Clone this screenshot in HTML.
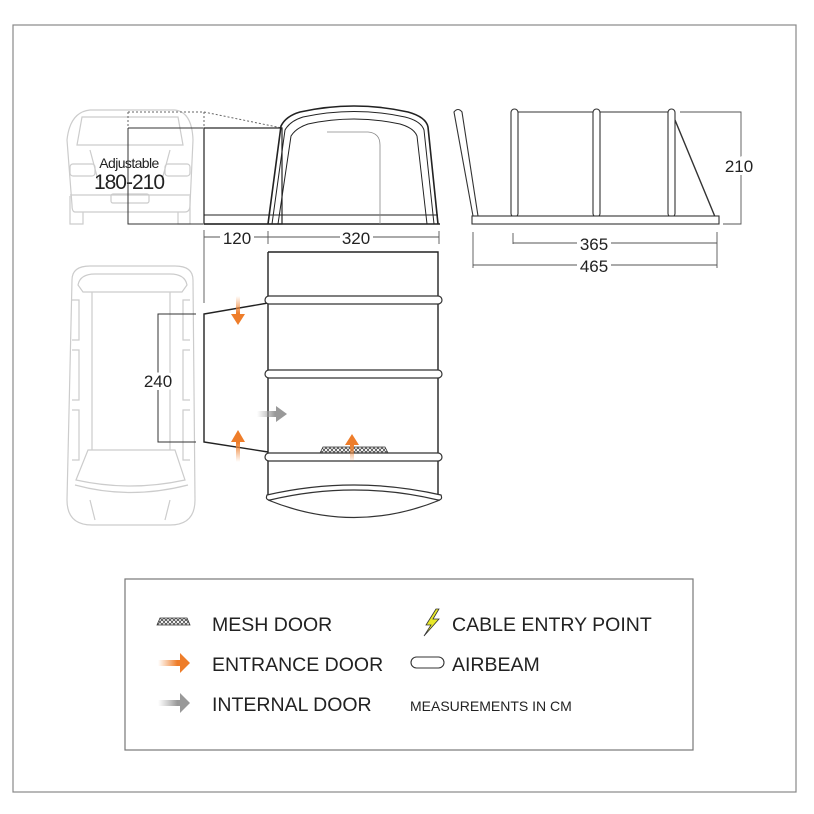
<!DOCTYPE html>
<html><head><meta charset="utf-8"><style>
html,body{margin:0;padding:0;background:#fff;}
svg{display:block;font-family:"Liberation Sans",sans-serif;}
</style></head><body>
<svg width="814" height="814" viewBox="0 0 814 814" xmlns="http://www.w3.org/2000/svg">
<defs>
<linearGradient id="og" x1="0" x2="1" y1="0" y2="0"><stop offset="0" stop-color="#f08a3c" stop-opacity="0"/><stop offset="0.6" stop-color="#ee7d2a"/><stop offset="1" stop-color="#ee7d2a"/></linearGradient>
<linearGradient id="ogv" x1="0" x2="0" y1="1" y2="0"><stop offset="0" stop-color="#f08a3c" stop-opacity="0"/><stop offset="0.6" stop-color="#ee7d2a"/><stop offset="1" stop-color="#ee7d2a"/></linearGradient>
<linearGradient id="ogd" x1="0" x2="0" y1="0" y2="1"><stop offset="0" stop-color="#f08a3c" stop-opacity="0"/><stop offset="0.6" stop-color="#ee7d2a"/><stop offset="1" stop-color="#ee7d2a"/></linearGradient>
<linearGradient id="gg" x1="0" x2="1" y1="0" y2="0"><stop offset="0" stop-color="#aaa" stop-opacity="0"/><stop offset="0.6" stop-color="#999"/><stop offset="1" stop-color="#999"/></linearGradient>
<pattern id="mesh" width="4" height="4" patternUnits="userSpaceOnUse"><circle cx="2" cy="2" r="1.5" fill="none" stroke="#333" stroke-width="0.7"/></pattern>
</defs>
<rect x="13" y="25" width="783" height="767" fill="none" stroke="#888" stroke-width="1.2"/>

<!-- van rear view -->
<g fill="none" stroke="#ccc" stroke-width="1.2">
<path d="M72 205 L67 140 Q70 112 90 110 L175 110 Q192 112 193 140 L190 205 Q190 212 185 212 L75 212 Q72 212 72 205Z"/>
<path d="M77 145 L82 117 L178 117 L183 145Z"/>
<path d="M70 195 L190 195"/>
<rect x="70" y="164" width="25" height="12" rx="3"/><rect x="165" y="164" width="25" height="12" rx="3"/>
<rect x="111" y="194" width="38" height="9" rx="2"/>
<path d="M70 196 L70 224 L83 224 L83 212"/><path d="M178 212 L178 224 L190 224 L190 196"/>
<path d="M90 150 L98 180"/><path d="M170 150 L162 180"/>
</g>
<text x="129" y="168" font-size="14" text-anchor="middle" fill="#222" letter-spacing="-0.6">Adjustable</text>
<text x="129" y="189" font-size="21" text-anchor="middle" fill="#222" letter-spacing="-1">180-210</text>
<g stroke="#333" stroke-width="1" fill="none">
<path d="M128 112 L203 112" stroke-dasharray="2,2" stroke="#666"/>
<path d="M128 112 L128 128" stroke-dasharray="2,2" stroke="#666"/>
<path d="M204 112 L204 128" stroke-dasharray="2,2" stroke="#666"/>
<path d="M204 112 L282 128" stroke-dasharray="2,2" stroke="#666"/>
<path d="M128 128 L203 128 M128 128 L128 224 L203 224"/>
</g>
<!-- annex side -->
<g stroke="#222" fill="none">
<rect x="204" y="128" width="78" height="96" stroke-width="1.2"/>
<path d="M204 215 L438 215" stroke-width="1"/>
<path d="M204 224 L440 224" stroke-width="1.6"/>
<path d="M268 224 L281 126 Q286 116 300 112 Q354 100 408 112 Q426 117 428 127 L438 224" stroke-width="1.6"/>
<path d="M272 224 L285 130 Q290 121 303 117 Q354 106 405 117 Q421 121 424 130 L434 224" stroke-width="1"/>
<path d="M278 224 L291 136 Q296 128 308 124 Q354 114 400 124 Q414 128 417 136 L427 224" stroke-width="1"/>
<path d="M327 132 L368 132 Q380 133 380 145 L380 224" stroke="#888" stroke-width="0.8"/>
</g>
<!-- dims 120/320 -->
<g stroke="#555" stroke-width="0.9" fill="none">
<path d="M204 230 L204 303"/><path d="M268 231 L268 244"/><path d="M439 231 L439 244"/>
<path d="M204 237 L220 237 M254 237 L268 237 M268 237 L340 237 M373 237 L439 237"/>
</g>
<text x="237" y="244" font-size="17" text-anchor="middle" fill="#222">120</text>
<text x="356" y="244" font-size="17" text-anchor="middle" fill="#222">320</text>

<!-- van top view -->
<g fill="none" stroke="#ccc" stroke-width="1.2">
<path d="M72 280 Q72 266 90 266 L175 266 Q193 266 193 280 L195 500 Q195 525 170 525 L92 525 Q67 525 67 500Z"/>
<path d="M78 285 Q80 274 95 274 L170 274 Q185 274 187 285 L182 292 L83 292Z"/>
<path d="M92 292 L92 450 M170 292 L170 450"/>
<path d="M72 300 L79 300 L79 340 L72 340 M72 350 L79 350 L79 400 L72 400 M72 410 L79 410 L79 460 L72 460"/>
<path d="M190 300 L183 300 L183 340 L190 340 M190 350 L183 350 L183 400 L190 400 M190 410 L183 410 L183 460 L190 460"/>
<path d="M88 450 L175 450 L185 480 Q130 492 76 480Z"/>
<path d="M75 485 Q130 500 188 485 M90 500 L95 520 M170 500 L165 520"/>
</g>
<g stroke="#333" stroke-width="1" fill="none"><path d="M196 314 L158 314 L158 442 L196 442"/></g>
<text x="158" y="387" font-size="17" text-anchor="middle" fill="#222" style="paint-order:stroke" stroke="#fff" stroke-width="6">240</text>
<!-- annex top -->
<g stroke="#222" fill="none" stroke-width="1.4">
<path d="M268 303 L204 314 L204 442 L268 452"/>
<path d="M268 252 L438 252 L438 497 M268 252 L268 497"/>
</g>
<g fill="#fff" stroke="#333" stroke-width="1.2">
<rect x="265" y="296" width="177" height="8" rx="4"/>
<rect x="265" y="370" width="177" height="8" rx="4"/>
<rect x="265" y="453" width="177" height="8" rx="4"/>
<path d="M267 495 Q265 500 270 500 Q354 480 438 500 Q443 500 441 495 Q354 475 267 495Z"/>
<path d="M268 500 Q354 535 440 500" fill="none"/>
</g>
<path d="M320 453 L323 447 L385 447 L388 453Z" fill="url(#mesh)" stroke="#333" stroke-width="0.8"/>
<path d="M236 296 L240 296 L240 314 L245 314 L238 325 L231 314 L236 314Z" fill="url(#ogd)"/>
<path d="M236 462 L240 462 L240 442 L245 442 L238 430 L231 442 L236 442Z" fill="url(#ogv)"/>
<path d="M350 462 L354 462 L354 445 L359 445 L352 434 L345 445 L350 445Z" fill="url(#ogv)"/>
<path d="M257 411 L276 411 L276 406 L287 414 L276 422 L276 417 L257 417Z" fill="url(#gg)"/>

<!-- side view -->
<g stroke="#333" fill="#fff" stroke-width="1.1">
<path d="M675 120 L718 224" fill="none" stroke-width="1.4"/>
<path d="M513 112 L672 112" fill="none"/>
<path d="M454 112 Q458 107 462 112 L478 216 L473 216Z"/>
<rect x="511" y="109" width="7" height="108" rx="3.5"/>
<rect x="593" y="109" width="7" height="108" rx="3.5"/>
<rect x="668" y="109" width="7" height="108" rx="3.5"/>
<rect x="472" y="216" width="247" height="8"/>
</g>
<g stroke="#555" stroke-width="0.9" fill="none">
<path d="M680 112 L741 112 L741 224 L723 224"/>
<path d="M473 232 L473 268 M717 232 L717 268 M513 233 L513 244"/>
<path d="M513 243 L577 243 M611 243 L717 243 M473 265 L577 265 M611 265 L717 265"/>
</g>
<text x="739" y="172" font-size="17" text-anchor="middle" fill="#222" style="paint-order:stroke" stroke="#fff" stroke-width="6">210</text>
<text x="594" y="250" font-size="17" text-anchor="middle" fill="#222">365</text>
<text x="594" y="272" font-size="17" text-anchor="middle" fill="#222">465</text>

<!-- legend -->
<rect x="125" y="579" width="568" height="171" fill="none" stroke="#777" stroke-width="1.2"/>
<path d="M157 625 L160 618 L187 618 L190 625Z" fill="url(#mesh)" stroke="#333" stroke-width="0.8"/>
<path d="M158 660 L180 660 L180 653 L190 663 L180 673 L180 666 L158 666Z" fill="url(#og)"/>
<path d="M158 700 L180 700 L180 693 L190 703 L180 713 L180 706 L158 706Z" fill="url(#gg)"/>
<path d="M436 609 L426 625 L431 625 L424 636 L439 619 L433 619 L439 609Z" fill="#e8e82a" stroke="#333" stroke-width="0.8"/>
<rect x="411" y="657" width="33" height="11" rx="5.5" fill="#fff" stroke="#333" stroke-width="1.1"/>
<g font-size="19.5" fill="#222">
<text x="212" y="631">MESH DOOR</text>
<text x="212" y="671">ENTRANCE DOOR</text>
<text x="212" y="711">INTERNAL DOOR</text>
<text x="452" y="631">CABLE ENTRY POINT</text>
<text x="452" y="671">AIRBEAM</text>
</g>
<text x="410" y="711" font-size="14" fill="#222">MEASUREMENTS IN CM</text>
</svg>
</body></html>
